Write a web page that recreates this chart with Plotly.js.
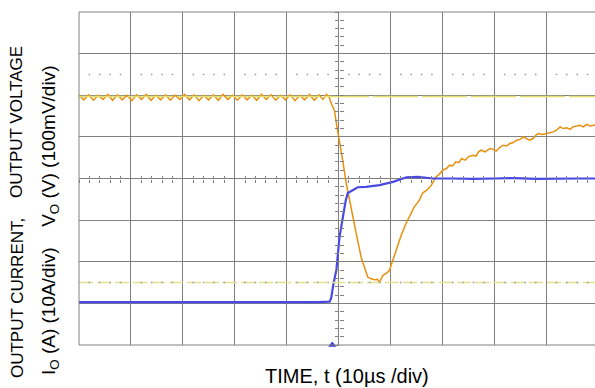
<!DOCTYPE html>
<html>
<head>
<meta charset="utf-8">
<script src="https://cdn.plot.ly/plotly-3.0.1.min.js"></script>
<style>
html,body{margin:0;padding:0;overflow:hidden;background:#fff;}
#chart{width:600px;height:388px;}
</style>
</head>
<body>
<div id="chart"></div>
<script>
// Time in microseconds (10 us/div), voltage deviation in mV (100 mV/div), current in A (10 A/div)
var timeV = [
 -50.0,-49.07,-48.15,-47.22,-46.3,-45.37,-44.45,-43.52,-42.6,-41.67,-40.75,-39.82,-38.9,-37.97,-37.05,-36.12,
 -35.2,-34.27,-33.35,-32.42,-31.5,-30.57,-29.65,-28.72,-27.8,-26.87,-25.95,-25.02,-24.1,-23.17,-22.25,-21.32,
 -20.4,-19.47,-18.55,-17.62,-16.7,-15.77,-14.85,-13.92,-13.0,-12.07,-11.15,-10.22,-9.3,-8.37,-7.45,-6.52,
 -5.6,-4.67,-3.75,-3.0,-2.3,
 -1.8,-1.4,-0.8,-0.35,0.2,0.8,1.5,2.1,2.8,3.4,4.4,5.0,5.65,6.3,6.9,7.5,7.9,8.2,8.6,9.2,9.8,10.5,11.1,
 12.1,13.0,14.0,14.6,15.6,16.2,17.0,17.9,18.8,19.4,20.1,20.8,21.4,22.0,22.6,23.2,23.7,24.4,25.0,25.9,
 26.5,27.0,27.5,28.2,29.2,29.8,30.4,31.0,31.7,32.4,33.0,33.6,34.3,35.0,35.6,36.2,36.8,37.5,38.0,38.5,
 39.3,40.1,40.8,41.4,42.0,42.7,43.3,44.0,44.6,45.2,45.9,46.5,47.2,47.8,48.5,49.2,50.0
];
var voltV = [
 0,-11,1,-12,0,-10,2,-12,1,-11,0,-13,1,-10,2,-12,
 0,-11,1,-12,0,-10,2,-11,1,-13,0,-11,1,-12,2,-10,
 0,-12,1,-11,0,-12,2,-10,1,-12,0,-11,1,-13,0,-11,
 2,-12,1,-10,2,
 -4,-20,-36,-72,-108,-156,-212,-252,-295,-331,-391,-415,-437,-441,-443,-442,-450,-441,-432,-428,-421,-395,-372,
 -336,-308,-283,-268,-252,-235,-228,-216,-196,-190,-180,-176,-168,-170,-160,-162,-152,-156,-148,-144,
 -146,-136,-132,-136,-128,-130,-134,-126,-120,-122,-116,-114,-108,-106,-100,-104,-108,-104,-96,-92,
 -94,-92,-90,-88,-84,-76,-80,-78,-82,-76,-74,-72,-76,-70,-74,-72,-72
];
var timeI = [-50,-40,-30,-20,-10,-4,-1.7,-1.4,-1.0,-0.4,0.2,0.8,1.4,1.8,2.8,3.7,5.3,7.9,10.5,13.1,15.3,18.2,22,26,30,34,38,42,46,50];
var currI = [0.3,0.3,0.2,0.3,0.3,0.3,0.4,1.3,4.5,8.1,16.0,20.8,24.8,26.5,27.2,27.9,28.0,28.4,29.2,30.3,30.4,30.0,30.0,29.9,30.0,30.1,29.9,30.0,30.0,30.0];

// reference / cursor levels (mV) and trigger position (us)
var refTimes = [-50, 50];
var nominalRef = [-3, -3];
var minCursor = [-450, -450];
var gratUpper = [50, 50];
var gratLower = [-450, -450];
var trigTime = [-1.2];
var trigLevel = [-600];

var GRID = '#808080';
var DOTS = '0px,9.63px,1.5px,8.88px,1.5px,8.88px,1.5px,8.88px,1.5px,9.63px';
var traces = [
  {x: refTimes, y: gratUpper, xaxis:'x2', yaxis:'y3', mode:'lines', hoverinfo:'skip',
   line:{color:'#9a9a9a', width:1.5, dash:DOTS}},
  {x: refTimes, y: minCursor, xaxis:'x2', yaxis:'y3', mode:'lines', hoverinfo:'skip',
   line:{color:'#e4e08c', width:1.5, dash:'14px,4px'}},
  {x: refTimes, y: gratLower, xaxis:'x2', yaxis:'y3', mode:'lines', hoverinfo:'skip',
   line:{color:'#9a9a9a', width:1.5, dash:DOTS}},
  {x: refTimes, y: nominalRef, xaxis:'x2', yaxis:'y3', mode:'lines', hoverinfo:'skip',
   line:{color:'#e6df70', width:1.6, dash:'45px,4px'}},
  {x: timeI, y: currI, xaxis:'x', yaxis:'y2', mode:'lines', name:'I_O',
   line:{color:'#4848e4', width:2.2}},
  {x: timeV, y: voltV, xaxis:'x', yaxis:'y', mode:'lines', name:'V_O',
   line:{color:'#e8900e', width:1.5}},
  {x: trigTime, y: trigLevel, xaxis:'x', yaxis:'y', mode:'markers', cliponaxis:false, hoverinfo:'skip',
   marker:{symbol:'triangle-up', size:7, color:'#3a3ae0'}}
];

var tickCommon = {showticklabels:false, zeroline:false, showline:false, fixedrange:true, tickcolor:GRID, tickwidth:1};
var layout = {
  width:600, height:388,
  margin:{l:79, r:2, t:12, b:43, pad:0},
  paper_bgcolor:'#fff', plot_bgcolor:'#fff',
  showlegend:false,
  font:{family:'Liberation Sans, Arial, sans-serif', color:'#000'},
  xaxis: Object.assign({range:[-50,50], tick0:0, dtick:10, showgrid:true, gridcolor:GRID, gridwidth:1,
    anchor:'free', position:0.5, ticks:'outside', ticklen:3,
    minor:{tick0:0, dtick:2, ticks:'outside', ticklen:3, tickcolor:GRID, showgrid:false}}, tickCommon),
  xaxis2: Object.assign({range:[-50,50], overlaying:'x', tick0:0, dtick:10, showgrid:false,
    anchor:'free', position:0.5, ticks:'inside', ticklen:3,
    minor:{tick0:0, dtick:2, ticks:'inside', ticklen:3, tickcolor:GRID, showgrid:false}}, tickCommon),
  yaxis: Object.assign({range:[-600,200], tick0:0, dtick:100, showgrid:true, gridcolor:GRID, gridwidth:1,
    anchor:'free', position:0.5, ticks:'outside', ticklen:4,
    minor:{tick0:0, dtick:20, ticks:'outside', ticklen:4, tickcolor:GRID, showgrid:false}}, tickCommon),
  yaxis2: Object.assign({range:[-10,70], overlaying:'y', showgrid:false, ticks:''}, tickCommon),
  yaxis3: Object.assign({range:[-600,200], overlaying:'y', tick0:0, dtick:100, showgrid:false,
    anchor:'free', position:0.5, ticks:'inside', ticklen:4,
    minor:{tick0:0, dtick:20, ticks:'inside', ticklen:4, tickcolor:GRID, showgrid:false}}, tickCommon),
  shapes:[
    {type:'rect', xref:'paper', yref:'paper', x0:0, x1:1, y0:0, y1:1, line:{color:GRID, width:1}, layer:'above'}
  ],
  annotations:[
    {text:'TIME, t (10\u00b5s /div)', xref:'paper', yref:'paper', x:0.516, y:-0.093, showarrow:false,
     xanchor:'center', yanchor:'middle', font:{size:20, color:'#000', family:'Liberation Sans, Arial, sans-serif'}},
    {text:'OUTPUT VOLTAGE', xref:'paper', yref:'paper', x:-0.1195, y:0.6697, textangle:-90, showarrow:false,
     xanchor:'center', yanchor:'middle', font:{size:17, color:'#000', family:'Liberation Sans, Arial, sans-serif'}},
    {text:'OUTPUT CURRENT,', xref:'paper', yref:'paper', x:-0.1195, y:0.141, textangle:-90, showarrow:false,
     xanchor:'center', yanchor:'middle', font:{size:17, color:'#000', family:'Liberation Sans, Arial, sans-serif'}},
    {text:'V<sub>O</sub> (V) (100mV/div)', xref:'paper', yref:'paper', x:-0.0559, y:0.598, textangle:-90, showarrow:false,
     xanchor:'center', yanchor:'middle', font:{size:19, color:'#000', family:'Liberation Sans, Arial, sans-serif'}},
    {text:'I<sub>O</sub> (A) (10A/div)', xref:'paper', yref:'paper', x:-0.0559, y:0.102, textangle:-90, showarrow:false,
     xanchor:'center', yanchor:'middle', font:{size:19, color:'#000', family:'Liberation Sans, Arial, sans-serif'}}
  ]
};

Plotly.newPlot('chart', traces, layout, {staticPlot:true, displayModeBar:false});
</script>
</body>
</html>
